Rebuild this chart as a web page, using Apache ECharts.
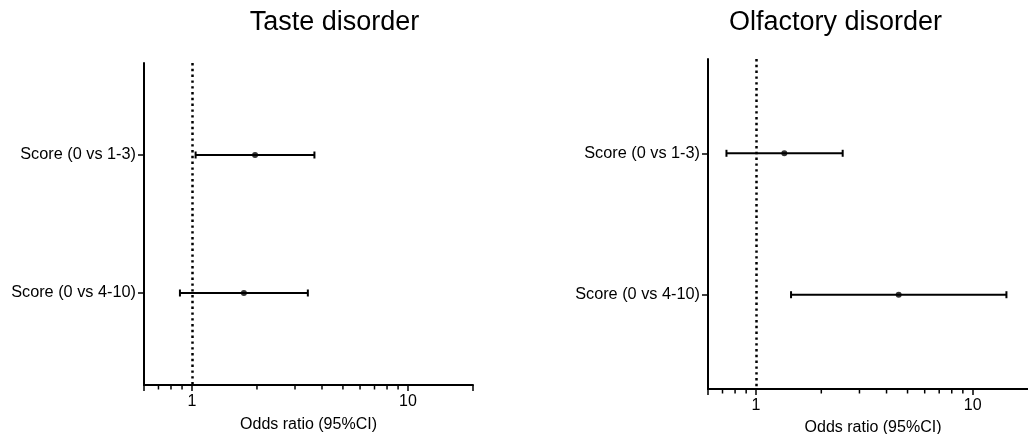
<!DOCTYPE html>
<html><head><meta charset="utf-8">
<script src="https://cdn.jsdelivr.net/npm/echarts@6/dist/echarts.min.js"></script>
<style>html,body{margin:0;padding:0;background:#fff}#c{width:1028px;height:434px}</style>
</head><body><div id="c"></div>
<script>
// ---- data ----
const categories = ['Score (0 vs 1-3)', 'Score (0 vs 4-10)'];
const panelTitles = ['Taste disorder', 'Olfactory disorder'];
const tasteOR = [1.96, 1.74];
const tasteLow = [1.04, 0.88];
const tasteHigh = [3.69, 3.44];
const olfOR = [1.35, 4.55];
const olfLow = [0.73, 1.45];
const olfHigh = [2.51, 14.3];
const xTickLabels = [1, 10];
const xMinorTicks = [0.7, 0.8, 0.9, 2, 3, 4, 5, 6, 7, 8, 9];
const xMin = 0.6, xMax = 20;
const refValue = 1;
const axisName = 'Odds ratio (95%CI)';

// ---- layout ----
const rowPos = [2, 5];
const yMin = 0, yMax = 7;
const FONT = '"Liberation Sans", Arial, sans-serif';

const chart = echarts.init(document.getElementById('c'), null, {renderer: 'canvas'});

function xAxisCfg(gi, gap) {
  return {
    type: 'log', logBase: 10, gridIndex: gi, min: xMin, max: xMax, position: 'bottom',
    name: axisName, nameLocation: 'middle', nameGap: gap,
    nameTextStyle: {fontSize: 16, color: '#000', fontFamily: FONT},
    axisLine: {show: true, onZero: false, lineStyle: {color: '#000', width: 2}},
    axisTick: {show: true, length: 6, lineStyle: {color: '#000', width: 1.5}},
    axisLabel: {
      fontSize: 16, color: '#000', fontFamily: FONT, margin: 9,
      formatter: function (v) {
        const t = xTickLabels.find(function (k) { return Math.abs(k - v) / k < 1e-6; });
        return t === undefined ? '' : String(t);
      }
    },
    splitLine: {show: false}, minorTick: {show: false}
  };
}
function yAxisCfg(gi) {
  return {
    type: 'value', gridIndex: gi, min: yMin, max: yMax, interval: 1, inverse: true, position: 'left',
    axisLine: {show: true, onZero: false, lineStyle: {color: '#000', width: 2}},
    axisTick: {show: true, length: 6, customValues: rowPos, lineStyle: {color: '#000', width: 1.5}},
    axisLabel: {
      fontSize: 16.3, color: '#000', fontFamily: FONT, margin: 8, customValues: rowPos,
      formatter: function (v) { const i = rowPos.indexOf(v); return i < 0 ? '' : categories[i]; }
    },
    splitLine: {show: false}
  };
}
function errSeries(gi, lo, hi) {
  return {
    type: 'custom', xAxisIndex: gi, yAxisIndex: gi,
    data: lo.map(function (l, i) { return [l, hi[i], rowPos[i]]; }),
    encode: {x: [0, 1], y: 2},
    renderItem: function (params, api) {
      const y = api.value(2);
      const p1 = api.coord([api.value(0), y]);
      const p2 = api.coord([api.value(1), y]);
      const h = 3.5, st = {stroke: '#000', lineWidth: 2};
      return {type: 'group', children: [
        {type: 'line', shape: {x1: p1[0], y1: p1[1], x2: p2[0], y2: p2[1]}, style: st},
        {type: 'line', shape: {x1: p1[0], y1: p1[1] - h, x2: p1[0], y2: p1[1] + h}, style: st},
        {type: 'line', shape: {x1: p2[0], y1: p2[1] - h, x2: p2[0], y2: p2[1] + h}, style: st}
      ]};
    },
    markLine: {
      silent: true, symbol: 'none', label: {show: false},
      lineStyle: {color: '#000', type: [2.4, 3.4], width: 2.5},
      data: [{xAxis: refValue}]
    },
    z: 3
  };
}
function pointSeries(gi, or) {
  return {
    type: 'scatter', xAxisIndex: gi, yAxisIndex: gi, symbol: 'circle', symbolSize: 6,
    itemStyle: {color: '#000'},
    data: or.map(function (v, i) { return [v, rowPos[i]]; }), z: 4
  };
}
function minorSeries(gi) {
  return {
    type: 'custom', xAxisIndex: gi, yAxisIndex: gi, silent: true,
    data: xMinorTicks.map(function (v) { return [v, yMax]; }),
    encode: {x: 0, y: 1},
    renderItem: function (params, api) {
      const p = api.coord([api.value(0), api.value(1)]);
      return {type: 'line', shape: {x1: p[0], y1: p[1], x2: p[0], y2: p[1] + 4.5},
        style: {stroke: '#000', lineWidth: 1.5}};
    }
  };
}

chart.setOption({
  backgroundColor: '#fff',
  animation: false,
  graphic: [
    {type: 'text', x: 334.5, y: 23, style: {text: panelTitles[0], textAlign: 'center', textVerticalAlign: 'middle', fontSize: 27, fontFamily: FONT, fill: '#000'}},
    {type: 'text', x: 835.5, y: 23, style: {text: panelTitles[1], textAlign: 'center', textVerticalAlign: 'middle', fontSize: 27, fontFamily: FONT, fill: '#000'}}
  ],
  grid: [
    {left: 144, top: 63, width: 329, height: 322, containLabel: false, outerBoundsMode: 'none'},
    {left: 708, top: 59, width: 330, height: 330, containLabel: false, outerBoundsMode: 'none'}
  ],
  xAxis: [xAxisCfg(0, 32), xAxisCfg(1, 31)],
  yAxis: [yAxisCfg(0), yAxisCfg(1)],
  series: [
    errSeries(0, tasteLow, tasteHigh), pointSeries(0, tasteOR), minorSeries(0),
    errSeries(1, olfLow, olfHigh), pointSeries(1, olfOR), minorSeries(1)
  ]
});
</script></body></html>
